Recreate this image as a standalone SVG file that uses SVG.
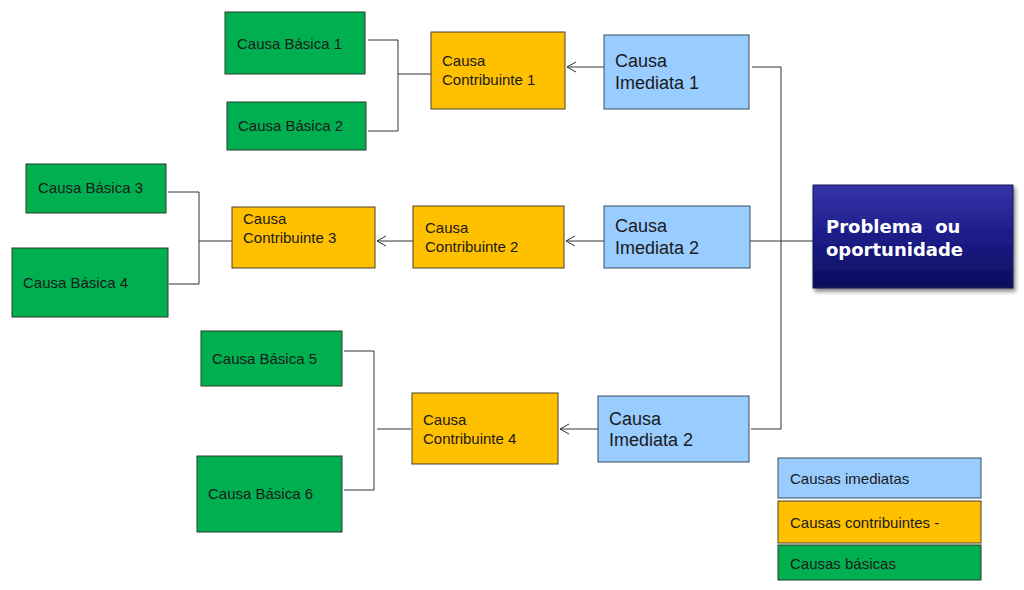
<svg xmlns="http://www.w3.org/2000/svg" width="1024" height="590" viewBox="0 0 1024 590">
<defs>
<style>
.g{fill:#00B050;stroke:#2a3a2a;stroke-width:1}
.o{fill:#FFC000;stroke:#4a4030;stroke-width:1}
.b{fill:#99CCFF;stroke:#3a4a5a;stroke-width:1}
.t{font-family:"Liberation Sans",Arial,sans-serif;font-size:15px;fill:#1a1a1a}
.tb{font-family:"Liberation Sans",Arial,sans-serif;font-size:18px;fill:#1a1a1a}
.tp{font-family:"DejaVu Sans",Verdana,sans-serif;font-size:18px;font-weight:bold;fill:#ffffff}
.c{fill:none;stroke:#333333;stroke-width:1}
</style>
<linearGradient id="navy" x1="0" y1="0" x2="0" y2="1">
<stop offset="0" stop-color="#3434A8"/>
<stop offset="0.5" stop-color="#1C1C88"/>
<stop offset="1" stop-color="#0C0C5C"/>
</linearGradient>
<filter id="sh" x="-10%" y="-10%" width="130%" height="130%">
<feGaussianBlur in="SourceAlpha" stdDeviation="2"/>
<feOffset dx="2" dy="3"/>
<feComponentTransfer><feFuncA type="linear" slope="0.5"/></feComponentTransfer>
<feMerge><feMergeNode/><feMergeNode in="SourceGraphic"/></feMerge>
</filter>
<marker id="arr" markerWidth="12" markerHeight="12" refX="10" refY="6" orient="auto" markerUnits="userSpaceOnUse">
<path d="M1,1 L10,6 L1,11" fill="none" stroke="#333333" stroke-width="1"/>
</marker>
</defs>
<rect width="1024" height="590" fill="#ffffff"/>

<g id="connectors">
<path class="c" d="M368,40 H398 V131 H368 M398,74 H431"/>
<path class="c" d="M168,192 H199 V284 H169 M199,241 H232"/>
<path class="c" d="M344,351 H374 V490 H344 M377,429 H411"/>
<path class="c" d="M752,67 H781 V429 H751 M750,241 H813"/>
<line class="c" x1="604" y1="67" x2="567" y2="67" marker-end="url(#arr)"/>
<line class="c" x1="604" y1="241" x2="566" y2="241" marker-end="url(#arr)"/>
<line class="c" x1="413" y1="241" x2="377" y2="241" marker-end="url(#arr)"/>
<line class="c" x1="598" y1="429" x2="560" y2="429" marker-end="url(#arr)"/>
</g>

<g id="basica1"><rect class="g" x="225" y="12" width="140" height="62"/><text class="t" x="237" y="49">Causa Básica 1</text></g>
<g id="basica2"><rect class="g" x="227" y="102" width="139" height="48"/><text class="t" x="238" y="131">Causa Básica 2</text></g>
<g id="basica3"><rect class="g" x="26" y="164" width="140" height="49"/><text class="t" x="38" y="193">Causa Básica 3</text></g>
<g id="basica4"><rect class="g" x="12" y="248" width="156" height="69"/><text class="t" x="23" y="288">Causa Básica 4</text></g>
<g id="basica5"><rect class="g" x="201" y="331" width="141" height="55"/><text class="t" x="212" y="364">Causa Básica 5</text></g>
<g id="basica6"><rect class="g" x="197" y="456" width="145" height="76"/><text class="t" x="208" y="499">Causa Básica 6</text></g>

<g id="contrib1"><rect class="o" x="431" y="32" width="134" height="77"/><text class="t" x="442" y="66">Causa</text><text class="t" x="442" y="85">Contribuinte 1</text></g>
<g id="contrib2"><rect class="o" x="413" y="206" width="151" height="62"/><text class="t" x="425" y="233">Causa</text><text class="t" x="425" y="252">Contribuinte 2</text></g>
<g id="contrib3"><rect class="o" x="232" y="207" width="143" height="61"/><text class="t" x="243" y="224">Causa</text><text class="t" x="243" y="243">Contribuinte 3</text></g>
<g id="contrib4"><rect class="o" x="412" y="393" width="146" height="71"/><text class="t" x="423" y="425">Causa</text><text class="t" x="423" y="444">Contribuinte 4</text></g>

<g id="imediata1"><rect class="b" x="604" y="35" width="145" height="74"/><text class="tb" x="615" y="67">Causa</text><text class="tb" x="615" y="89">Imediata 1</text></g>
<g id="imediata2"><rect class="b" x="604" y="206" width="146" height="62"/><text class="tb" x="615" y="232">Causa</text><text class="tb" x="615" y="254">Imediata 2</text></g>
<g id="imediata3"><rect class="b" x="598" y="396" width="151" height="66"/><text class="tb" x="609" y="425">Causa</text><text class="tb" x="609" y="446">Imediata 2</text></g>

<g id="problema"><rect x="813" y="185" width="200" height="103" fill="url(#navy)" stroke="#1a1a50" stroke-width="1" filter="url(#sh)"/><text class="tp" x="826" y="233" xml:space="preserve">Problema  ou</text><text class="tp" x="826" y="256">oportunidade</text></g>

<g id="legend">
<g id="leg-imediatas"><rect class="b" x="778" y="458" width="203" height="40"/><text class="t" x="790" y="484">Causas imediatas</text></g>
<g id="leg-contribuintes"><rect class="o" x="778" y="501" width="203" height="42"/><text class="t" x="790" y="528">Causas contribuintes -</text></g>
<g id="leg-basicas"><rect class="g" x="778" y="545" width="203" height="35"/><text class="t" x="790" y="569">Causas básicas</text></g>
</g>
</svg>
